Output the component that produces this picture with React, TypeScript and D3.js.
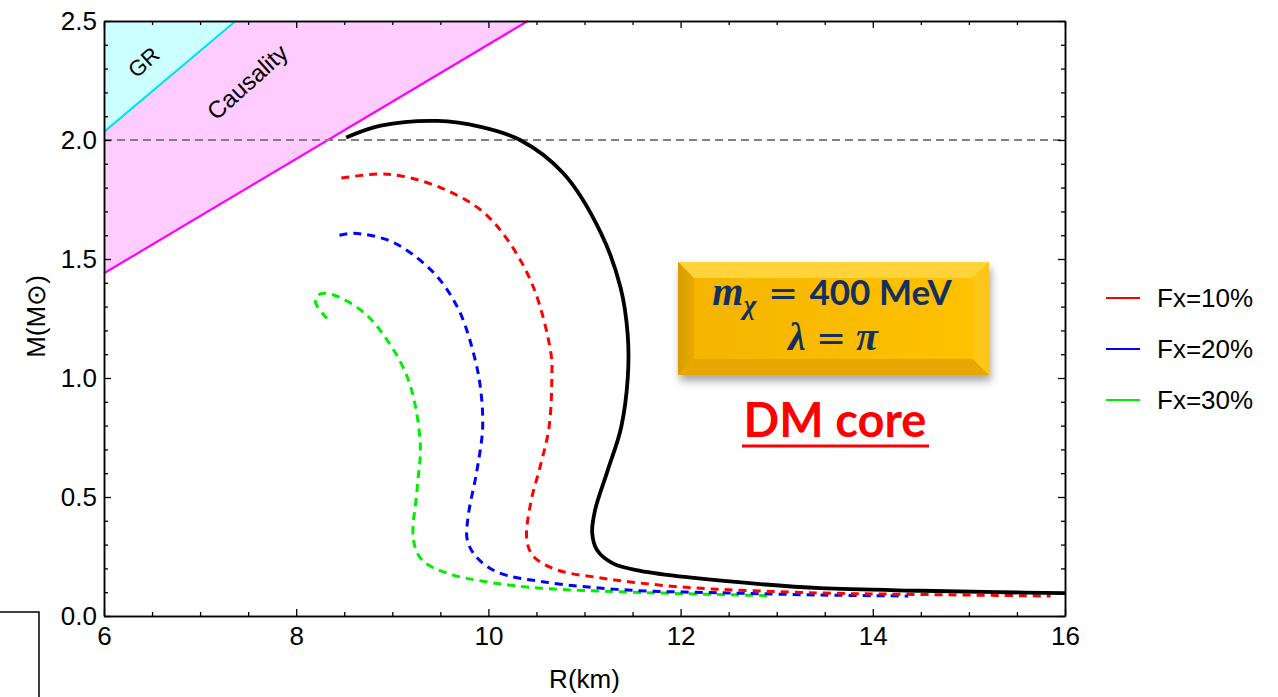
import React, { useEffect, useRef } from 'react';
import * as d3 from 'd3';

// mass-radius curves (R in km, M in solar masses)
const nsR = [8.52, 8.88, 9.47, 9.92, 10.33, 10.78, 11.17, 11.375, 11.45, 11.45, 11.38, 11.24, 11.11, 11.08, 11.13, 11.3, 11.58, 12.14, 12.83, 13.46, 14.5, 15.3, 16.0];
const nsM = [2.01, 2.06, 2.08, 2.055, 2.0, 1.86, 1.61, 1.38, 1.18, 1.0, 0.79, 0.61, 0.445, 0.35, 0.277, 0.22, 0.19, 0.16, 0.134, 0.117, 0.106, 0.1, 0.096];

const fx10R = [8.47, 8.84, 9.08, 9.5, 9.92, 10.2, 10.47, 10.65, 10.66, 10.63, 10.54, 10.44, 10.4, 10.47, 10.72, 11.17, 11.5, 12.14, 13.43, 14.6, 15.85];
const fx10M = [1.84, 1.857, 1.85, 1.8, 1.706, 1.58, 1.38, 1.105, 1.0, 0.79, 0.63, 0.475, 0.32, 0.25, 0.193, 0.16, 0.142, 0.118, 0.097, 0.09, 0.084];

const fx20R = [8.45, 8.6, 8.95, 9.22, 9.5, 9.71, 9.86, 9.92, 9.94, 9.88, 9.79, 9.78, 9.87, 10.09, 10.6, 11.45, 12.49, 13.46, 14.37];
const fx20M = [1.6, 1.608, 1.58, 1.517, 1.41, 1.27, 1.08, 0.95, 0.79, 0.61, 0.42, 0.32, 0.25, 0.185, 0.142, 0.109, 0.097, 0.088, 0.084];

const fx30R = [8.32, 8.2, 8.25, 8.39, 8.67, 8.875, 9.16, 9.29, 9.26, 9.22, 9.31, 9.57, 9.99, 10.54, 11.5, 12.95];
const fx30M = [1.25, 1.32, 1.353, 1.349, 1.286, 1.2, 1.0, 0.73, 0.54, 0.32, 0.235, 0.18, 0.143, 0.117, 0.1, 0.085];

// GR and causality limits
const grR = [6, 7.37];
const grM = [2.034, 2.5];
const causR = [6, 10.41];
const causM = [1.44, 2.5];
const refMass = 2.0;

const legendLabels = ['Fx=10%', 'Fx=20%', 'Fx=30%'];
const legendColors = ['#ff0000', '#0000ff', '#00ee00'];
const xMajor = [6, 8, 10, 12, 14, 16];
const yMajor = [0, 0.5, 1.0, 1.5, 2.0, 2.5];

const zip = (r: number[], m: number[]) => r.map((v, i) => [v, m[i]] as [number, number]);

export default function App() {
	const ref = useRef<SVGSVGElement>(null);

	const left = 104, right = 1065, top = 21, bottom = 616;
	const x = d3.scaleLinear().domain([6, 16]).range([left, right]);
	const y = d3.scaleLinear().domain([0, 2.5]).range([bottom, top]);

	const line = d3.line<[number, number]>()
		.x(d => x(d[0]))
		.y(d => y(d[1]))
		.curve(d3.curveCatmullRom.alpha(0.5));

	const xMinor = d3.range(6, 16.001, 0.5).filter(v => !xMajor.includes(v));
	const yMinor = d3.ticks(0, 2.5, 25).filter(v => Math.abs(v * 2 - Math.round(v * 2)) > 1e-6);

	useEffect(() => {
		document.body.style.margin = '0';
		const svg = d3.select(ref.current);
		const g = svg.select('#axes');
		g.selectAll('*').remove();

		const add = (axis: any, t: string) => {
			const a = g.append('g').attr('transform', t).call(axis)
				.attr('font-family', '"Liberation Sans", Arial, sans-serif')
				.attr('font-size', 26);
			a.selectAll('path').attr('stroke', '#000').attr('stroke-width', 1.5);
			a.selectAll('line').attr('stroke', '#000').attr('stroke-width', 1.3);
			a.selectAll('text').attr('fill', '#000');
			return a;
		};

		// bottom / top
		add(d3.axisBottom(x).tickValues(xMajor).tickSize(-7).tickSizeOuter(0).tickPadding(11).tickFormat(d3.format('d')), `translate(0,${bottom})`);
		add(d3.axisBottom(x).tickValues(xMinor).tickSize(-4).tickSizeOuter(0).tickFormat(() => ''), `translate(0,${bottom})`);
		add(d3.axisTop(x).tickValues(xMajor).tickSize(-7).tickSizeOuter(0).tickFormat(() => ''), `translate(0,${top})`);
		add(d3.axisTop(x).tickValues(xMinor).tickSize(-4).tickSizeOuter(0).tickFormat(() => ''), `translate(0,${top})`);
		// left / right
		add(d3.axisLeft(y).tickValues(yMajor).tickSize(-7).tickSizeOuter(0).tickPadding(7).tickFormat(d3.format('.1f')), `translate(${left},0)`);
		add(d3.axisLeft(y).tickValues(yMinor).tickSize(-4).tickSizeOuter(0).tickFormat(() => ''), `translate(${left},0)`);
		add(d3.axisRight(y).tickValues(yMajor).tickSize(-7).tickSizeOuter(0).tickFormat(() => ''), `translate(${right},0)`);
		add(d3.axisRight(y).tickValues(yMinor).tickSize(-4).tickSizeOuter(0).tickFormat(() => ''), `translate(${right},0)`);
	}, []);

	const bx0 = 678, by0 = 262, bx1 = 989, by1 = 375, bv = 16;
	const pts = (p: number[][]) => p.map(q => q.join(',')).join(' ');

	const pinkArea = [[x(6), y(2.5)], [x(causR[1]), y(causM[1])], [x(causR[0]), y(causM[0])]];
	const cyanArea = [[x(6), y(2.5)], [x(grR[1]), y(grM[1])], [x(grR[0]), y(grM[0])]];

	return (
		<svg ref={ref} width={1278} height={697} style={{ display: 'block', background: '#fff' }}
			fontFamily='"Liberation Sans", Arial, sans-serif'>
			<defs>
				<filter id="shadow" x="-10%" y="-20%" width="120%" height="150%">
					<feDropShadow dx="2" dy="6" stdDeviation="4" floodColor="#000" floodOpacity="0.35" />
				</filter>
				<linearGradient id="face" x1="0" y1="0" x2="1" y2="0">
					<stop offset="0" stopColor="#f4b400" />
					<stop offset="1" stopColor="#ffc200" />
				</linearGradient>
				<linearGradient id="leftBevel" x1="0" y1="0" x2="1" y2="0">
					<stop offset="0" stopColor="#d89c00" />
					<stop offset="1" stopColor="#eaaa00" />
				</linearGradient>
			</defs>

			{/* limit regions */}
			<polygon points={pts(pinkArea)} fill="#ffccff" />
			<polygon points={pts(cyanArea)} fill="#ccffff" />
			<path d={line(zip(causR, causM)) || ''} stroke="#ff00ff" strokeWidth={2.2} fill="none" />
			<path d={line(zip(grR, grM)) || ''} stroke="#00e5f0" strokeWidth={2.2} fill="none" />
			<text transform={`translate(${x(6.465)},${y(2.303)}) rotate(-42)`} textAnchor="middle" fontSize={22} fill="#000">GR</text>
			<text transform={`translate(${x(7.55)},${y(2.218)}) rotate(-42)`} textAnchor="middle" fontSize={24} fill="#000">Causality</text>

			{/* 2 Msun reference */}
			<line x1={x(6)} x2={x(16)} y1={y(refMass)} y2={y(refMass)} stroke="#808080" strokeWidth={2.2} strokeDasharray="8 5" />

			{/* curves */}
			<path d={line(zip(fx30R, fx30M)) || ''} stroke="#00ee00" strokeWidth={3} fill="none" strokeDasharray="8 6" />
			<path d={line(zip(fx20R, fx20M)) || ''} stroke="#0000ff" strokeWidth={3} fill="none" strokeDasharray="8 6" />
			<path d={line(zip(fx10R, fx10M)) || ''} stroke="#ff0000" strokeWidth={3} fill="none" strokeDasharray="8 6" />
			<path d={line(zip(nsR, nsM)) || ''} stroke="#000" strokeWidth={3.8} fill="none" />

			<g id="axes"></g>

			{/* axis titles */}
			<text x={(left + right) / 2} y={688} textAnchor="middle" fontSize={26}>R(km)</text>
			<text transform={`translate(45,${(top + bottom) / 2 - 2}) rotate(-90)`} textAnchor="middle" fontSize={26}>M(M⊙)</text>

			{/* legend */}
			{legendLabels.map((l, i) => (
				<g key={l} transform={`translate(1106,${298 + i * 51})`}>
					<line x1={0} x2={34} y1={0} y2={0} stroke={legendColors[i]} strokeWidth={2.2} />
					<text x={51} y={9} fontSize={26}>{l}</text>
				</g>
			))}

			{/* annotation box */}
			<g filter="url(#shadow)">
				<rect x={bx0} y={by0} width={bx1 - bx0} height={by1 - by0} fill="url(#face)" />
			</g>
			<polygon points={pts([[bx0, by0], [bx1, by0], [bx1 - bv, by0 + bv], [bx0 + bv, by0 + bv]])} fill="#ffd43a" />
			<polygon points={pts([[bx0, by1], [bx1, by1], [bx1 - bv, by1 - bv], [bx0 + bv, by1 - bv]])} fill="#e8a600" />
			<polygon points={pts([[bx0, by0], [bx0 + bv, by0 + bv], [bx0 + bv, by1 - bv], [bx0, by1]])} fill="url(#leftBevel)" />
			<polygon points={pts([[bx1, by0], [bx1 - bv, by0 + bv], [bx1 - bv, by1 - bv], [bx1, by1]])} fill="#ffc61a" />
			<text x={832} y={305} textAnchor="middle" fill="#14305e" fontSize={40}>
				<tspan fontFamily='"Liberation Serif", serif' fontStyle="italic" fontWeight="bold">m</tspan>
				<tspan fontFamily='"Liberation Serif", serif' fontStyle="italic" fontWeight="bold" fontSize={28} dy={9}>χ</tspan>
				<tspan fontFamily='"DejaVu Sans", sans-serif' fontSize={36} dy={-9}> = </tspan>
				<tspan fontFamily='Lato, "Open Sans", sans-serif' fontWeight="bold" fontSize={35}>400 MeV</tspan>
			</text>
			<text x={833} y={350} textAnchor="middle" fill="#14305e" fontSize={40}
				fontFamily='"Liberation Serif", serif' fontWeight="bold" fontStyle="italic">
				λ <tspan fontFamily='"DejaVu Sans", sans-serif' fontSize={36} fontStyle="normal" fontWeight="normal">=</tspan> π
			</text>

			<text x={835} y={437} textAnchor="middle" fill="#ff0000" fontSize={47}
				fontFamily='Lato, "Open Sans", sans-serif' fontWeight="bold">DM core</text>
			<line x1={742} x2={929} y1={446} y2={446} stroke="#ff0000" strokeWidth={3} />

			{/* stray frame corner at bottom-left */}
			<path d="M0,612 H39 V697" stroke="#000" strokeWidth={1.5} fill="none" />
		</svg>
	);
}
